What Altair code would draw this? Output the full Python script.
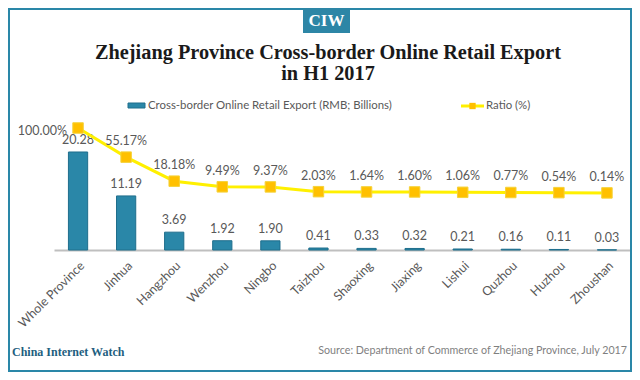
import altair as alt
import pandas as pd

cities = ["Whole Province", "Jinhua", "Hangzhou", "Wenzhou", "Ningbo", "Taizhou",
          "Shaoxing", "Jiaxing", "Lishui", "Quzhou", "Huzhou", "Zhoushan"]
exports = [20.28, 11.19, 3.69, 1.92, 1.90, 0.41, 0.33, 0.32, 0.21, 0.16, 0.11, 0.03]
ratios = [100.00, 55.17, 18.18, 9.49, 9.37, 2.03, 1.64, 1.60, 1.06, 0.77, 0.54, 0.14]

df = pd.DataFrame({
    "city": cities,
    "export": exports,
    "ratio": ratios,
    "export_label": [f"{v:.2f}" for v in exports],
    "ratio_label": [f"{v:.2f}%" for v in ratios],
})

TEAL = "#2a87a8"
GRAY = "#595959"
FONT = "Lato"
SERIF = "Liberation Serif"

W, H = 577, 130
OX, OY = 54, 120  # plot origin in reference page coords

def rx(x):
    return x - OX

def ry(y):
    return y - OY

xenc = alt.X("city:N", sort=cities, title=None,
             scale=alt.Scale(paddingInner=0.6, paddingOuter=0.3),
             axis=alt.Axis(labelAngle=-45, labelFont=FONT, labelFontSize=12.5,
                           labelColor=GRAY, ticks=False, domainColor="#bfbfbf",
                           domainWidth=2, labelPadding=9, grid=False))

base = alt.Chart(df)

bar_y = alt.Y("export:Q", scale=alt.Scale(domain=[0, 26.9]), axis=None)
bars = base.mark_bar(color=TEAL, stroke="#1f6e8c", strokeWidth=1).encode(x=xenc, y=bar_y)
bar_text = base.mark_text(font=FONT, fontSize=12.5, color=GRAY, dy=-12, baseline="middle").encode(
    x=xenc, y=bar_y, text="export_label:N")
bar_layer = alt.layer(bars, bar_text)

line_y = alt.Y("ratio:Q", scale=alt.Scale(domain=[-87.7, 112.3]), axis=None)
line = base.mark_line(color="#fff000", strokeWidth=3).encode(x=xenc, y=line_y)
pts = base.mark_point(shape="square", filled=True, size=110, color="#ffc000",
                      stroke="#f5d23a", strokeWidth=1, opacity=1).encode(x=xenc, y=line_y)
rtext_first = base.transform_filter(alt.datum.city == "Whole Province").mark_text(
    font=FONT, fontSize=12.5, color=GRAY, align="right", dx=-11, dy=3, baseline="middle"
).encode(x=xenc, y=line_y, text="ratio_label:N")
rtext_rest = base.transform_filter(alt.datum.city != "Whole Province").mark_text(
    font=FONT, fontSize=12.5, color=GRAY, dy=-16, baseline="middle"
).encode(x=xenc, y=line_y, text="ratio_label:N")
line_layer = alt.layer(line, pts, rtext_first, rtext_rest)

# decorations
one = pd.DataFrame({"a": [0]})
deco = alt.Chart(one)

border = deco.mark_rect(fill=None, stroke=TEAL, strokeWidth=2).encode(
    x=alt.value(rx(9)), x2=alt.value(rx(631)), y=alt.value(ry(9)), y2=alt.value(ry(371)))
badge = deco.mark_rect(color="#2d86a6").encode(
    x=alt.value(rx(303)), x2=alt.value(rx(350)), y=alt.value(ry(8)), y2=alt.value(ry(33)))
badge_text = deco.mark_text(text="CIW", font=SERIF, fontWeight="bold", fontSize=17,
                            color="white", baseline="middle").encode(
    x=alt.value(rx(326.5)), y=alt.value(ry(21)))
title1 = deco.mark_text(text="Zhejiang Province Cross-border Online Retail Export",
                        font=SERIF, fontWeight="bold", fontSize=20.3, color="#1a1a1a",
                        baseline="middle").encode(x=alt.value(rx(328)), y=alt.value(ry(53)))
title2 = deco.mark_text(text="in H1 2017", font=SERIF, fontWeight="bold", fontSize=20.3,
                        color="#1a1a1a", baseline="middle").encode(
    x=alt.value(rx(328)), y=alt.value(ry(74)))

leg_rect = deco.mark_rect(color=TEAL, stroke="#1f6e8c").encode(
    x=alt.value(rx(128)), x2=alt.value(rx(145)), y=alt.value(ry(103)), y2=alt.value(ry(108)))
leg_text1 = deco.mark_text(text="Cross-border Online Retail Export (RMB; Billions)",
                           font=FONT, fontSize=11.4, color=GRAY, align="left",
                           baseline="middle").encode(x=alt.value(rx(148)), y=alt.value(ry(106)))
leg_line = deco.mark_rule(color="#fff000", strokeWidth=3).encode(
    x=alt.value(rx(461)), x2=alt.value(rx(484)), y=alt.value(ry(106)))
leg_pt = deco.mark_point(shape="square", filled=True, size=40, color="#ffc000", opacity=1).encode(
    x=alt.value(rx(472.5)), y=alt.value(ry(106)))
leg_text2 = deco.mark_text(text="Ratio (%)", font=FONT, fontSize=11.4, color=GRAY, align="left",
                           baseline="middle").encode(x=alt.value(rx(486)), y=alt.value(ry(106)))

foot1 = deco.mark_text(text="China Internet Watch", font=SERIF, fontWeight="bold", fontSize=12,
                       color="#1f5f7f", align="left", baseline="middle").encode(
    x=alt.value(rx(12)), y=alt.value(ry(352)))
foot2 = deco.mark_text(text="Source: Department of Commerce of Zhejiang Province, July 2017",
                       font=FONT, fontSize=10.7, color="#7f7f7f", align="right",
                       baseline="middle").encode(x=alt.value(rx(627)), y=alt.value(ry(351)))

chart = alt.layer(
    bar_layer, line_layer,
    border, badge, badge_text, title1, title2,
    leg_rect, leg_text1, leg_line, leg_pt, leg_text2, foot1, foot2,
).resolve_scale(y="independent").properties(
    width=W, height=H,
    autosize=alt.AutoSizeParams(type="none"),
    padding={"left": OX - 8, "top": OY - 8, "right": 1, "bottom": 122},
    background="white",
).configure_view(stroke=None)

chart.save("out.html", embed_options={"renderer": "svg", "actions": False})
